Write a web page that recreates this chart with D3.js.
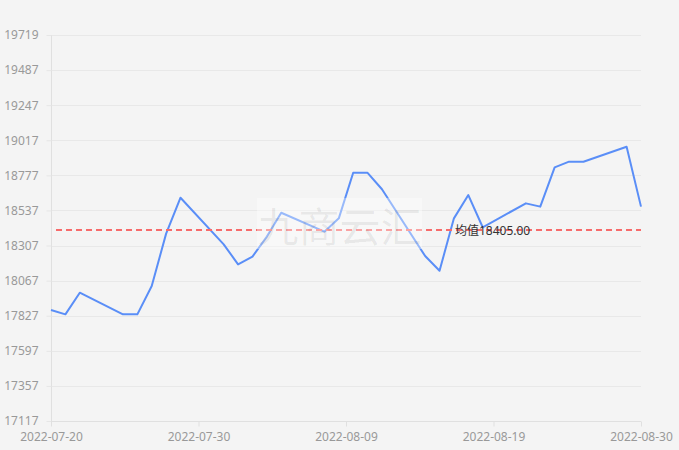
<!DOCTYPE html>
<html>
<head>
<meta charset="utf-8">
<script src="https://cdn.jsdelivr.net/npm/d3@7"></script>
<style>
  html, body { margin: 0; padding: 0; background: #f4f4f4; }
  svg { display: block; font-family: "Noto Sans", "Noto Sans CJK SC", sans-serif; }
</style>
</head>
<body>
<svg id="chart" width="679" height="450"></svg>
<script>
// ---- data ----
const dates = ["2022-07-20","2022-07-21","2022-07-22","2022-07-25","2022-07-26","2022-07-27","2022-07-28","2022-07-29",
  "2022-08-01","2022-08-02","2022-08-03","2022-08-04","2022-08-05","2022-08-08","2022-08-09","2022-08-10","2022-08-11",
  "2022-08-12","2022-08-15","2022-08-16","2022-08-17","2022-08-18","2022-08-19","2022-08-22","2022-08-23","2022-08-24",
  "2022-08-25","2022-08-26","2022-08-29","2022-08-30"];
const prices = [17865,17836,17982,17836,17836,18027,18380,18622,
  18308,18173,18225,18360,18521,18393,18483,18790,18790,
  18679,18229,18130,18483,18640,18423,18584,18562,18827,
  18865,18865,18966,18562];
const yTickLabels = ["17117","17357","17597","17827","18067","18307","18537","18777","19017","19247","19487","19719"];
const xTickLabels = ["2022-07-20","2022-07-30","2022-08-09","2022-08-19","2022-08-30"];
const meanValue = 18405;
const meanLabel = "均值18405.00";
const meanLabelDate = "2022-08-17";
const watermark = "九商云汇";

// ---- layout ----
const W = 679, H = 450;
const margin = {left: 51, right: 38, top: 35, bottom: 29};
const parse = d3.utcParse("%Y-%m-%d");
const data = dates.map((d, i) => ({date: parse(d), value: prices[i]}));

const yMin = +yTickLabels[0], yMax = +yTickLabels[yTickLabels.length - 1];
const x = d3.scaleUtc()
  .domain([parse(xTickLabels[0]), parse(xTickLabels[xTickLabels.length - 1])])
  .range([margin.left, W - margin.right]);
const y = d3.scaleLinear().domain([yMin, yMax]).range([H - margin.bottom, margin.top]);

const svg = d3.select("#chart");
svg.append("rect").attr("width", W).attr("height", H).attr("fill", "#f4f4f4");

// y positions: evenly spaced ticks
const nY = yTickLabels.length - 1;
const yTickVals = yTickLabels.map((_, k) => yMin + k * (yMax - yMin) / nY);
const [d0, d1] = x.domain();
const nX = xTickLabels.length - 1;
const xTickVals = xTickLabels.map((_, k) => new Date(+d0 + k * (d1 - d0) / nX));

// grid lines
svg.append("g").selectAll("line").data(yTickVals.slice(1)).join("line")
  .attr("x1", margin.left).attr("x2", W - margin.right)
  .attr("y1", d => Math.round(y(d)) + 0.5).attr("y2", d => Math.round(y(d)) + 0.5)
  .attr("stroke", "#e8e8e8").attr("stroke-width", 1);

// y axis
const yAxis = d3.axisLeft(y).tickValues(yTickVals).tickSize(5).tickPadding(8)
  .tickFormat((d, i) => yTickLabels[i]);
const gy = svg.append("g").attr("transform", `translate(${margin.left + 0.5},0)`).call(yAxis);
gy.select(".domain").attr("stroke", "#e0e0e0").attr("d", `M0,${margin.top}V${H - margin.bottom}`);
gy.selectAll(".tick line").attr("stroke", "#e6e6e6");
gy.selectAll(".tick text").attr("fill", "#999").style("font-size", "12px").style("font-family", "Noto Sans");

// x axis
const xAxis = d3.axisBottom(x).tickValues(xTickVals).tickSize(5).tickPadding(6)
  .tickFormat((d, i) => xTickLabels[i]);
const gx = svg.append("g").attr("transform", `translate(0,${H - margin.bottom + 0.5})`).call(xAxis);
gx.select(".domain").attr("stroke", "#e0e0e0").attr("d", `M${margin.left},0H${W - margin.right}`);
gx.selectAll(".tick line").attr("stroke", "#e0e0e0");
gx.selectAll(".tick text").attr("fill", "#999").style("font-size", "12px").style("font-family", "Noto Sans");

// price line
const line = d3.line().x(d => x(d.date)).y(d => y(d.value));
svg.append("path").datum(data)
  .attr("d", line).attr("fill", "none")
  .attr("stroke", "#5a8ef7").attr("stroke-width", 2).attr("stroke-linejoin", "round");

// mean line
svg.append("line")
  .attr("x1", margin.left + 5).attr("x2", W - margin.right)
  .attr("y1", y(meanValue)).attr("y2", y(meanValue))
  .attr("stroke", "#f76b6b").attr("stroke-width", 2).attr("stroke-dasharray", "6,4");

// watermark
const wmCx = 339.5, wmCy = 223.5;
svg.append("rect")
  .attr("x", wmCx - 82.5).attr("y", wmCy - 25.5).attr("width", 165).attr("height", 51)
  .attr("fill", "#ffffff").attr("opacity", 0.38);
svg.append("text")
  .attr("x", wmCx).attr("y", wmCy).attr("text-anchor", "middle").attr("dominant-baseline", "central")
  .style("font-family", "Noto Sans CJK SC").style("font-size", "41px")
  .attr("fill", "#000").attr("fill-opacity", 0.07)
  .text(watermark);

// mean label
svg.append("text")
  .attr("x", x(parse(meanLabelDate)) + 1).attr("y", y(meanValue) + 5)
  .style("font-family", "Noto Sans, Noto Sans CJK SC").style("font-size", "12px")
  .attr("fill", "#333").text(meanLabel);
</script>
</body>
</html>
